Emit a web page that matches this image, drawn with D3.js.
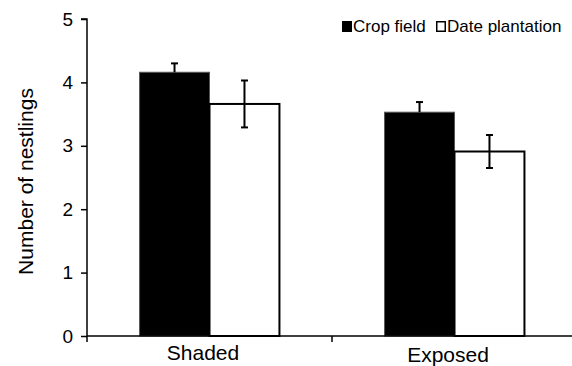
<!DOCTYPE html>
<html>
<head>
<meta charset="utf-8">
<script src="https://cdn.jsdelivr.net/npm/d3@7"></script>
<style>
  body { margin: 0; background: #fff; }
  svg { display: block; font-family: "Liberation Sans", Arial, sans-serif; }
</style>
</head>
<body>
<div id="chart"></div>
<script>
  // dados
  const categories = ['Shaded', 'Exposed'];
  const habitats = ['Crop field', 'Date plantation'];
  const means = { 'Crop field': [4.16, 3.53], 'Date plantation': [3.66, 2.91] };
  const errors = { 'Crop field': [0.14, 0.16], 'Date plantation': [0.37, 0.26] };
  const yTicks = [0, 1, 2, 3, 4, 5];

  const FILL = { 'Crop field': '#000', 'Date plantation': '#fff' };

  const width = 572, height = 366;
  const margin = { top: 19, right: -5, bottom: 30, left: 87 };

  const svg = d3.select('#chart').append('svg')
    .attr('width', width).attr('height', height);

  const x0 = d3.scaleBand().domain(categories)
    .range([margin.left, width - margin.right]).paddingInner(0).paddingOuter(0);
  const x1 = d3.scaleBand().domain(habitats)
    .range([0, x0.bandwidth() * 0.571]);
  const groupOffset = (x0.bandwidth() - x1.range()[1]) / 2;
  const y = d3.scaleLinear().domain([0, 5]).range([height - margin.bottom, margin.top]);

  const rows = [];
  categories.forEach((c, i) => habitats.forEach((h) => {
    rows.push({ cat: c, hab: h, v: means[h][i], e: errors[h][i] });
  }));

  // barras
  svg.append('g').selectAll('rect').data(rows).join('rect')
    .attr('x', (d) => x0(d.cat) + groupOffset + x1(d.hab))
    .attr('width', x1.bandwidth())
    .attr('y', (d) => y(d.v))
    .attr('height', (d) => y(0) - y(d.v))
    .attr('fill', (d) => FILL[d.hab])
    .attr('stroke', (d) => (d.hab === 'Crop field' ? '#555' : '#000'))
    .attr('stroke-width', (d) => (d.hab === 'Crop field' ? 1 : 2));

  // barras de erro
  const eb = svg.append('g').attr('stroke', '#000').attr('stroke-width', 2);
  rows.forEach((d) => {
    const cx = x0(d.cat) + groupOffset + x1(d.hab) + x1.bandwidth() / 2;
    const lo = d.hab === 'Crop field' ? d.v : d.v - d.e; // barra preta: so para cima
    eb.append('line').attr('x1', cx).attr('x2', cx).attr('y1', y(lo)).attr('y2', y(d.v + d.e));
    eb.append('line').attr('x1', cx - 3.5).attr('x2', cx + 3.5).attr('y1', y(d.v + d.e)).attr('y2', y(d.v + d.e));
    if (d.hab !== 'Crop field') {
      eb.append('line').attr('x1', cx - 3.5).attr('x2', cx + 3.5).attr('y1', y(lo)).attr('y2', y(lo));
    }
  });

  // eixo y
  const yAxis = svg.append('g').attr('transform', `translate(${margin.left},0)`)
    .call(d3.axisLeft(y).tickValues(yTicks).tickSize(6).tickPadding(8).tickFormat(d3.format('d')));
  yAxis.selectAll('path, line').attr('stroke', '#000').attr('stroke-width', 1.5);
  yAxis.select('.domain').attr('d', `M-6,${y(5)}H0V${y(0)}`);
  yAxis.selectAll('text').attr('font-size', 19).attr('fill', '#000')
    .attr('font-family', '"Liberation Sans", Arial, sans-serif');

  // eixo x
  const xAxis = svg.append('g').attr('transform', `translate(0,${y(0)})`)
    .call(d3.axisBottom(x0).tickSize(0).tickFormat(''));
  xAxis.select('.domain').attr('stroke', '#000').attr('stroke-width', 1.5)
    .attr('d', `M${margin.left},0H${width}`);
  // ticks entre categorias
  const bounds = [x0.range()[0], x0(categories[1])];
  xAxis.selectAll('.sep').data(bounds).join('line').attr('class', 'sep')
    .attr('x1', (d) => d).attr('x2', (d) => d).attr('y1', 0).attr('y2', 6)
    .attr('stroke', '#000').attr('stroke-width', 1.5);

  // rotulos de categoria (Exposed um pouco mais baixo, como no original)
  svg.append('g').selectAll('text').data(categories).join('text')
    .attr('x', (d) => x0(d) + x0.bandwidth() / 2 - 6.5)
    .attr('y', (d, i) => 360 + i * 1.5)
    .attr('text-anchor', 'middle').attr('font-size', 21).attr('fill', '#000')
    .text((d) => d);

  // titulo eixo y
  svg.append('text')
    .attr('transform', `translate(33,${(y(0) + y(5)) / 2 + 4}) rotate(-90)`)
    .attr('text-anchor', 'middle').attr('font-size', 21).attr('fill', '#000')
    .text('Number of nestlings');

  // legenda
  const legendX = [342, 436];
  const lg = svg.append('g').selectAll('g').data(habitats).join('g')
    .attr('transform', (d, i) => `translate(${legendX[i]},21)`);
  lg.append('rect').attr('x', 0.75).attr('y', 0.75).attr('width', 8.5).attr('height', 9.5)
    .attr('fill', (d) => FILL[d]).attr('stroke', '#000').attr('stroke-width', 1.5);
  lg.append('text').attr('x', 11).attr('y', 11).attr('font-size', 17).attr('fill', '#000')
    .text((d) => d);
</script>
</body>
</html>
